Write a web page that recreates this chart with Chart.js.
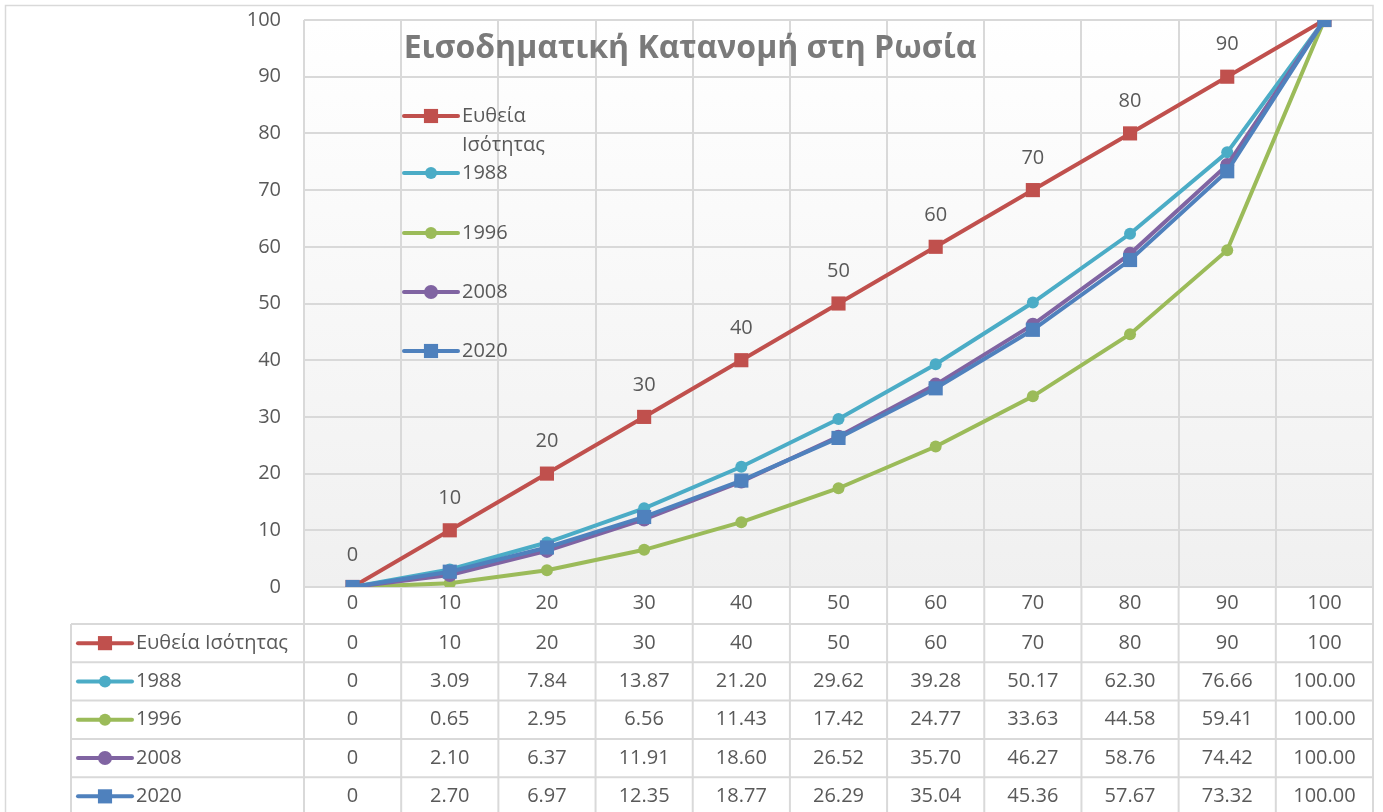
<!DOCTYPE html>
<html>
<head>
<meta charset="utf-8">
<script src="https://cdn.jsdelivr.net/npm/chart.js@4.4.1/dist/chart.umd.min.js"></script>
<style>
	html, body { margin: 0; padding: 0; background: #fff; }
	#wrap { width: 1383px; height: 812px; }
</style>
</head>
<body>
<div id="wrap"><canvas id="lorenzChart" width="1383" height="812"></canvas></div>
<script>
	const chartTitle = 'Εισοδηματική Κατανομή στη Ρωσία';
	const percentiles = ['0', '10', '20', '30', '40', '50', '60', '70', '80', '90', '100'];
	const seriesNames = ['Ευθεία Ισότητας', '1988', '1996', '2008', '2020'];
	const equalityLine = [0, 10, 20, 30, 40, 50, 60, 70, 80, 90, 100];
	const share1988 = [0, 3.09, 7.84, 13.87, 21.2, 29.62, 39.28, 50.17, 62.3, 76.66, 100.0];
	const share1996 = [0, 0.65, 2.95, 6.56, 11.43, 17.42, 24.77, 33.63, 44.58, 59.41, 100.0];
	const share2008 = [0, 2.1, 6.37, 11.91, 18.6, 26.52, 35.7, 46.27, 58.76, 74.42, 100.0];
	const share2020 = [0, 2.7, 6.97, 12.35, 18.77, 26.29, 35.04, 45.36, 57.67, 73.32, 100.0];

	const FONT = "'Open Sans', sans-serif";
	const TXT = '#595959';
	const GRID = '#d9d9d9';

	const styles = [
		{ color: '#c0504d', point: 'rect', radius: 10 },
		{ color: '#4bacc6', point: 'circle', radius: 6 },
		{ color: '#9bbb59', point: 'circle', radius: 6 },
		{ color: '#8064a2', point: 'circle', radius: 7 },
		{ color: '#4f81bd', point: 'rect', radius: 10 },
	];
	const seriesData = [equalityLine, share1988, share1996, share2008, share2020];

	const datasets = seriesData.map((d, i) => ({
		label: seriesNames[i],
		data: d,
		borderColor: styles[i].color,
		backgroundColor: styles[i].color,
		pointStyle: styles[i].point,
		pointRadius: styles[i].radius,
		pointBorderWidth: 0,
		borderWidth: 4,
		order: seriesData.length - i,
	}));

	function marker(ctx, st, x, y) {
		ctx.fillStyle = st.color;
		if (st.point === 'rect') {
			const s = st.radius * Math.SQRT1_2;
			ctx.fillRect(x - s, y - s, s * 2, s * 2);
		} else {
			ctx.beginPath();
			ctx.arc(x, y, st.radius, 0, Math.PI * 2);
			ctx.fill();
		}
	}

	function symbol(ctx, st, x1, x2, y) {
		ctx.strokeStyle = st.color;
		ctx.lineWidth = 4;
		ctx.lineCap = 'round';
		ctx.beginPath();
		ctx.moveTo(x1, y);
		ctx.lineTo(x2, y);
		ctx.stroke();
		marker(ctx, st, (x1 + x2) / 2, y);
	}

	function fmt(series, v) {
		if (series === 0 || v === 0) return String(v);
		return v.toFixed(2);
	}

	const excelLook = {
		id: 'excelLook',
		beforeDraw(chart) {
			const { ctx, chartArea: a } = chart;
			ctx.save();
			ctx.fillStyle = '#fff';
			ctx.fillRect(0, 0, chart.width, chart.height);
			const g = ctx.createLinearGradient(0, a.top, 0, a.bottom);
			g.addColorStop(0, '#ffffff');
			g.addColorStop(1, '#f0f0f0');
			ctx.fillStyle = g;
			ctx.fillRect(a.left, a.top, a.right - a.left, a.bottom - a.top);
			ctx.restore();
		},
		afterDraw(chart) {
			const { ctx, chartArea: a } = chart;
			const xs = chart.scales.x;
			ctx.save();

			// title
			ctx.fillStyle = '#7a7a7a';
			ctx.font = 'bold 32px ' + FONT;
			ctx.textAlign = 'center';
			ctx.textBaseline = 'middle';
			ctx.fillText(chartTitle, 690, 49);

			// value labels on the equality line (only those that fit inside the plot)
			ctx.font = '20px ' + FONT;
			ctx.fillStyle = TXT;
			chart.getDatasetMeta(0).data.forEach((p, i) => {
				if (p.y - 32 < a.top) return;
				ctx.fillText(String(equalityLine[i]), p.x, p.y - 32);
			});

			// legend inside the plot
			const legendY = [116, 173, 233, 292, 351];
			ctx.textAlign = 'left';
			seriesNames.forEach((name, i) => {
				symbol(ctx, styles[i], 404, 458, legendY[i]);
				ctx.fillStyle = TXT;
				ctx.font = '20px ' + FONT;
				if (i === 0) {
					const parts = name.split(' ');
					ctx.fillText(parts[0], 462, legendY[i]);
					ctx.fillText(parts[1], 462, legendY[i] + 29);
				} else {
					ctx.fillText(name, 462, legendY[i]);
				}
			});

			// data table
			const tableTop = a.bottom + 37;
			const rowH = 38.3;
			const bottom = chart.height;
			ctx.strokeStyle = GRID;
			ctx.lineWidth = 2;
			ctx.lineCap = 'butt';
			const edges = [a.left];
			for (let i = 1; i < percentiles.length; i++) {
				edges.push((xs.getPixelForValue(i - 1) + xs.getPixelForValue(i)) / 2);
			}
			edges.push(a.right);
			ctx.beginPath();
			edges.forEach((e) => {
				ctx.moveTo(e, a.bottom);
				ctx.lineTo(e, bottom);
			});
			ctx.moveTo(71, tableTop);
			ctx.lineTo(71, bottom);
			for (let r = 0; r < seriesNames.length; r++) {
				const y = tableTop + r * rowH;
				ctx.moveTo(71, y);
				ctx.lineTo(a.right, y);
			}
			ctx.stroke();

			ctx.textBaseline = 'middle';
			seriesNames.forEach((name, r) => {
				const cy = tableTop + r * rowH + rowH / 2;
				symbol(ctx, styles[r], 78, 132, cy);
				ctx.fillStyle = TXT;
				ctx.font = '20px ' + FONT;
				ctx.textAlign = 'left';
				ctx.fillText(name, 136, cy);
				ctx.textAlign = 'center';
				seriesData[r].forEach((v, i) => {
					ctx.fillText(fmt(r, v), xs.getPixelForValue(i), cy);
				});
			});

			// chart frame
			ctx.strokeStyle = GRID;
			ctx.lineWidth = 1.5;
			ctx.strokeRect(5.5, 5.5, a.right - 5.5, bottom + 10);
			ctx.restore();
		},
	};

	new Chart(document.getElementById('lorenzChart'), {
		type: 'line',
		data: { labels: percentiles, datasets: datasets },
		plugins: [excelLook],
		options: {
			responsive: false,
			animation: false,
			devicePixelRatio: 1,
			layout: {
				padding: { top: 20, right: 3.5, bottom: 188, left: 0 },
			},
			plugins: {
				legend: { display: false },
				tooltip: { enabled: false },
			},
			elements: {
				line: { tension: 0 },
			},
			scales: {
				x: {
					offset: true,
					grid: { color: GRID, lineWidth: 2, drawTicks: false, offset: true },
					border: { color: GRID, width: 2 },
					ticks: {
						color: TXT,
						font: { family: FONT, size: 20 },
						padding: 4,
						maxRotation: 0,
					},
					afterFit: (s) => {
						s.height = 37;
					},
				},
				y: {
					min: 0,
					max: 100,
					grid: { color: GRID, lineWidth: 2, drawTicks: false },
					border: { display: false },
					ticks: {
						stepSize: 10,
						color: TXT,
						font: { family: FONT, size: 20 },
						padding: 23,
					},
					afterFit: (s) => {
						s.width = 304;
						s.paddingTop = 0;
						s.paddingBottom = 0;
					},
				},
			},
		},
	});
</script>
</body>
</html>
